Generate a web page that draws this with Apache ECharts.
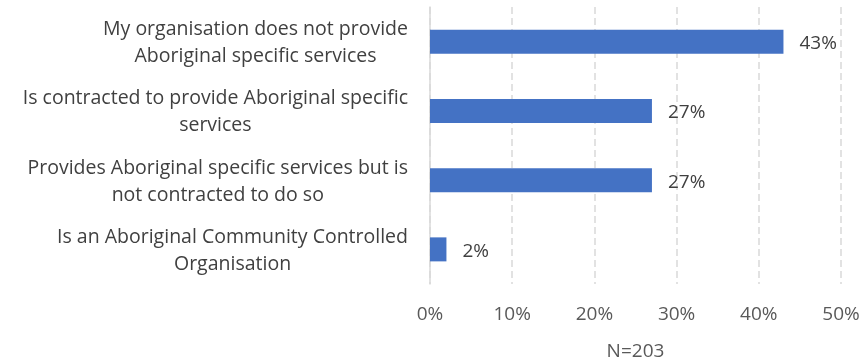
<!DOCTYPE html>
<html>
<head>
<meta charset="utf-8">
<script src="https://cdn.jsdelivr.net/npm/echarts@6/dist/echarts.min.js"></script>
<style>
  html, body { margin: 0; padding: 0; background: #fff; }
  #chart { width: 866px; height: 362px; }
</style>
</head>
<body>
<div id="chart"></div>
<script>
// Survey responses: Aboriginal specific service provision (percent of respondents)
const categories = [
  'My organisation does not provide\nAboriginal specific services',
  'Is contracted to provide Aboriginal specific\nservices',
  'Provides Aboriginal specific services but is\nnot contracted to do so',
  'Is an Aboriginal Community Controlled\nOrganisation'
];
const percentages = [43, 27, 27, 2];
const xTicks = [0, 10, 20, 30, 40, 50];
const axisTitle = 'N=203';

const FONT = '"Open Sans", Lato, sans-serif';

const chart = echarts.init(document.getElementById('chart'), null, { renderer: 'canvas' });

chart.setOption({
  animation: false,
  backgroundColor: '#ffffff',
  grid: {
    left: 430, right: 25, top: 7, bottom: 78,
    containLabel: false,
    outerBoundsMode: 'none'
  },
  xAxis: {
    type: 'value',
    min: xTicks[0],
    max: xTicks[xTicks.length - 1],
    interval: xTicks[1] - xTicks[0],
    name: axisTitle,
    nameLocation: 'middle',
    nameGap: 58,
    nameTextStyle: { color: '#595959', fontSize: 19, fontFamily: FONT },
    axisLine: { show: false },
    axisTick: { show: false },
    axisLabel: {
      formatter: v => v + '%',
      color: '#595959',
      fontSize: 19,
      fontFamily: FONT,
      margin: 21
    },
    splitLine: {
      show: true,
      lineStyle: { color: '#d9d9d9', width: 1.5, type: [7, 4] }
    }
  },
  yAxis: {
    type: 'category',
    data: categories,
    inverse: true,
    axisLine: { show: true, lineStyle: { color: '#d9d9d9', width: 1.5 } },
    axisTick: { show: false },
    splitLine: { show: false },
    axisLabel: {
      margin: 22,
      align: 'right',
      padding: [3, 0, 0, 0],
      formatter: v => v.split('\n').map(line => '{c|' + line + '}').join('\n'),
      rich: {
        c: {
          align: 'center',
          color: '#404040',
          fontSize: 19.5,
          fontFamily: FONT,
          lineHeight: 27
        }
      }
    }
  },
  series: [{
    type: 'bar',
    data: percentages,
    barWidth: 24,
    itemStyle: { color: '#4472c4' },
    label: {
      show: true,
      position: 'right',
      distance: 16,
      offset: [0, 2],
      formatter: p => p.value + '%',
      color: '#404040',
      fontSize: 19,
      fontFamily: FONT
    }
  }]
});
</script>
</body>
</html>
